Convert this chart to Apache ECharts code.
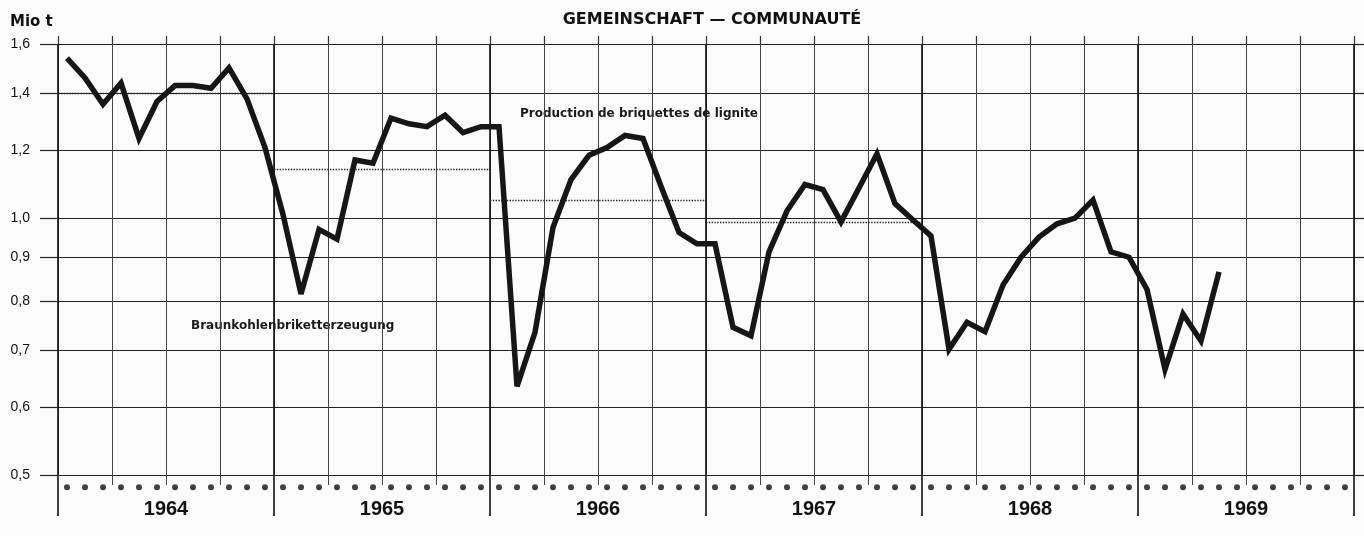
<!DOCTYPE html>
<html>
<head>
<meta charset="utf-8">
<script src="https://cdn.jsdelivr.net/npm/echarts@6/dist/echarts.min.js"></script>
<style>
  html, body { margin: 0; padding: 0; background: #fbfbfb; }
  #chart { width: 1364px; height: 536px; }
</style>
</head>
<body>
<div id="chart"></div>
<script>
// tick values of the log scale and their printed labels
const yTicks = [0.5, 0.6, 0.7, 0.8, 0.9, 1.0, 1.2, 1.4, 1.6];
const yTickLabels = ['0,5', '0,6', '0,7', '0,8', '0,9', '1,0', '1,2', '1,4', '1,6'];
const years = ['1964', '1965', '1966', '1967', '1968', '1969'];

// monthly production, Mio t, Jan 1964 .. May 1969
const production = [
	1.54, 1.46, 1.36, 1.44, 1.24, 1.37, 1.43, 1.43, 1.42, 1.50, 1.38, 1.21,
	1.01, 0.815, 0.97, 0.945, 1.17, 1.16, 1.31, 1.29, 1.28, 1.32, 1.26, 1.28,
	1.28, 0.635, 0.735, 0.975, 1.11, 1.185, 1.21, 1.25, 1.24, 1.09, 0.962, 0.933,
	0.933, 0.745, 0.728, 0.913, 1.02, 1.095, 1.08, 0.99, 1.085, 1.19, 1.04, 0.995,
	0.953, 0.702, 0.755, 0.736, 0.835, 0.90, 0.95, 0.985, 1.0, 1.05, 0.913, 0.90,
	0.825, 0.665, 0.772, 0.718, 0.865
];

// yearly averages (dotted lines) 1964 .. 1967
const yearAverage = [1.40, 1.14, 1.05, 0.99];

const lg = Math.log10;
const monthCount = years.length * 12;
const logTicks = yTicks.map(lg);

const chart = echarts.init(document.getElementById('chart'));

const tickLabelOf = (v) => {
	let best = 0;
	logTicks.forEach((t, i) => {
		if (Math.abs(t - v) < Math.abs(logTicks[best] - v)) best = i;
	});
	return yTickLabels[best];
};

// plain month axis that only draws vertical split lines
const monthLines = (gridIndex, interval, color, width) => ({
	type: 'value', gridIndex, min: 0, max: monthCount, interval,
	axisLine: { show: false },
	axisTick: { show: false },
	axisLabel: { show: false },
	splitLine: { show: true, lineStyle: { color, width } }
});

const hiddenY = (gridIndex) => ({ type: 'value', gridIndex, min: 0, max: 1, show: false });

chart.setOption({
	backgroundColor: '#fbfbfb',
	animation: false,
	grid: [
		{ left: 58, right: 10, top: 44, height: 431 },   // plot
		{ left: 58, right: 10, top: 475, height: 41 },   // year band with month dots
		{ left: 58, right: 10, top: 475, height: 10 },   // quarter stubs below
		{ left: 58, right: 10, top: 36, height: 8 },     // stubs above
		{ left: 1354, right: 0, top: 44, height: 431 }   // gridlines running out on the right
	],
	graphic: [
		{
			type: 'text', left: 10, top: 15,
			style: { text: 'Mio t', font: 'bold 15px "DejaVu Sans"', fill: '#111' }
		},
		{
			type: 'text', x: 712, y: 20,
			style: {
				text: 'GEMEINSCHAFT — COMMUNAUTÉ', font: 'bold 16px "DejaVu Sans"',
				fill: '#111', align: 'center', verticalAlign: 'middle'
			}
		},
		{
			type: 'text', x: 520, y: 114,
			style: {
				text: 'Production de briquettes de lignite', font: 'bold 12px "DejaVu Sans"',
				fill: '#1a1a1a', verticalAlign: 'middle'
			}
		},
		{
			type: 'text', x: 191, y: 326,
			style: {
				text: 'Braunkohlenbriketterzeugung', font: 'bold 12px "DejaVu Sans"',
				fill: '#1a1a1a', verticalAlign: 'middle'
			}
		}
	],
	xAxis: [
		{
			// quarter grid + year labels
			type: 'value', gridIndex: 0, position: 'bottom', min: 0, max: monthCount, interval: 3,
			axisLine: { show: false },
			axisTick: { show: false },
			splitLine: { show: true, lineStyle: { color: '#444', width: 1 } },
			axisLabel: {
				margin: 24,
				color: '#111',
				fontFamily: '"Liberation Sans Narrow", "Liberation Sans", Arial',
				fontWeight: 'bold',
				fontSize: 20,
				formatter: (v) => (v % 12 === 6 ? years[(v - 6) / 12] : '')
			}
		},
		monthLines(0, 12, '#111', 1.6),
		monthLines(1, 12, '#111', 1.6),
		monthLines(2, 3, '#444', 1),
		monthLines(3, 3, '#333', 1.2),
		{ type: 'value', gridIndex: 4, min: 0, max: 1, show: false }
	],
	yAxis: [
		{
			type: 'value', gridIndex: 0, min: lg(0.5), max: lg(1.6),
			axisLine: { show: false },
			axisTick: {
				show: true, length: 18, customValues: logTicks,
				lineStyle: { color: '#222', width: 1.2 }
			},
			splitLine: { show: true, lineStyle: { color: '#222', width: 1.2 } },
			axisLabel: {
				margin: 28,
				color: '#111',
				fontFamily: '"Liberation Sans", Arial',
				fontSize: 14,
				customValues: logTicks,
				formatter: tickLabelOf
			}
		},
		hiddenY(1),
		hiddenY(2),
		hiddenY(3),
		{
			type: 'value', gridIndex: 4, min: lg(0.5), max: lg(1.6),
			axisLine: { show: false },
			axisTick: { show: false, customValues: logTicks },
			axisLabel: { show: false, customValues: logTicks },
			splitLine: { show: true, lineStyle: { color: '#222', width: 1.2 } }
		}
	],
	series: [
		{
			type: 'line',
			xAxisIndex: 0,
			yAxisIndex: 0,
			data: production.map((v, i) => [i + 0.5, lg(v)]),
			symbol: 'none',
			lineStyle: { color: '#161616', width: 5.5, join: 'miter', miterLimit: 4 },
			z: 5,
			markLine: {
				silent: true,
				symbol: 'none',
				label: { show: false },
				lineStyle: { type: 'dotted', color: '#222', width: 1.4 },
				data: yearAverage.map((v, k) => [
					{ coord: [k * 12, lg(v)] },
					{ coord: [(k + 1) * 12, lg(v)] }
				])
			}
		},
		{
			// month markers under the time axis
			type: 'scatter',
			xAxisIndex: 2,
			yAxisIndex: 1,
			data: Array.from({ length: monthCount }, (_, i) => [i + 0.5, 0.7]),
			symbol: 'circle',
			symbolSize: 6,
			itemStyle: { color: '#111' },
			silent: true
		}
	]
});
</script>
</body>
</html>
